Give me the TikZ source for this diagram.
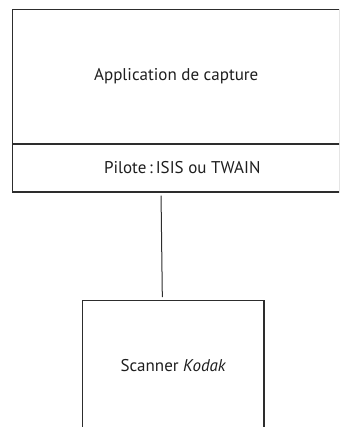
\documentclass[tikz,border=0pt]{standalone}
\usepackage{fontspec}
\setmainfont{PT Sans}
\definecolor{ln}{RGB}{45,45,45}
\definecolor{tx}{RGB}{30,30,30}
\begin{document}
\begin{tikzpicture}[x=1pt,y=-1pt,
  box/.style={draw=ln, line width=1.3pt, inner sep=0pt, text=tx, font=\fontsize{17}{20}\selectfont},
  link/.style={draw=ln, line width=1pt}]
\useasboundingbox (0,0) rectangle (339,427);
\clip (0,0) rectangle (339,427);
\node[box, minimum width=327.5pt, minimum height=134.5pt] (app) at (176.25,76.75) {\raisebox{4pt}{Application de capture}};
\node[box, minimum width=327.5pt, minimum height=48pt] (pilote) at (176.25,168) {\hspace*{12pt}Pilote\,:\,ISIS ou TWAIN};
\node[box, minimum width=181.3pt, minimum height=130pt] (scanner) at (173.35,365.3) {Scanner \textit{Kodak}};
\draw[link, shorten <=3pt, shorten >=2.6pt] ([xshift=-15.25pt]pilote.south) -- ([xshift=-11pt]scanner.north);
\end{tikzpicture}
\end{document}
